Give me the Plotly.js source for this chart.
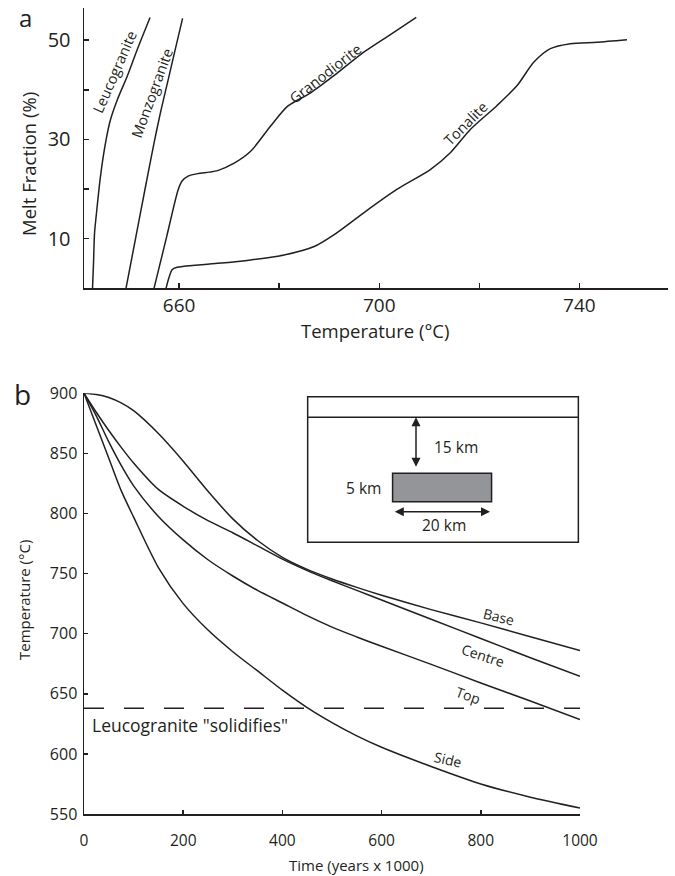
<!DOCTYPE html>
<html>
<head>
<meta charset="utf-8">
<script src="https://cdn.plot.ly/plotly-3.0.1.min.js"></script>
<style>html,body{margin:0;padding:0;background:#fff;}#chart{width:675px;height:876px;}</style>
</head>
<body>
<div id="chart"></div>
<script>
// ---- Panel a: melt fraction vs temperature ----
const leucoT = [642.7, 642.9, 643.1, 643.5, 644.3, 645.3, 646.3, 647.7, 649.7, 651.7, 654.2];
const leucoM = [0, 5, 11, 15.2, 22.6, 29.3, 34, 38.1, 42.9, 48.3, 54.6];
const monzoT = [649.4, 651.3, 653.2, 655.0, 656.3, 657.7, 659.2, 660.7];
const monzoM = [0, 10, 20, 29.3, 35.5, 41.5, 48, 54.4];
const granoT = [655.0, 657.5, 659.8, 660.6, 661.8, 663.7, 666.0, 667.7, 671.0, 674.3, 678.3, 681.7, 686.3, 691.0, 696.9, 702.0, 707.4];
const granoM = [0, 10.3, 19.8, 21.6, 22.6, 23.1, 23.4, 23.7, 25.2, 27.6, 32.7, 36.7, 39.4, 42.9, 47.6, 51.0, 54.6];
const tonT = [657.4, 658.0, 658.6, 659.6, 661, 667.7, 674.3, 681, 687, 691, 696.9, 703.5, 710.2, 714.2, 718.2, 723.5, 727.5, 730.9, 734.2, 738.2, 743.5, 749.5];
const tonM = [0, 2.2, 3.7, 4.2, 4.4, 5.0, 5.7, 6.7, 8.4, 10.8, 15.2, 19.9, 23.9, 27.3, 32.0, 36.8, 40.8, 45.6, 48.3, 49.3, 49.6, 50.1];
const rockNames = ['Leucogranite', 'Monzogranite', 'Granodiorite', 'Tonalite'];
const aTickVals = [660, 680, 700, 720, 740];
const aTickText = ['660', '', '700', '', '740'];
const aYTickVals = [10, 20, 30, 40, 50];
const aYTickText = ['10', '', '30', '', '50'];

// ---- Panel b: cooling curves ----
const timeKyr = [0, 25, 50, 75, 100, 150, 200, 250, 300, 350, 400, 450, 500, 550, 600, 700, 800, 900, 1000];
const baseT   = [900, 899, 896.5, 892, 885.5, 866.5, 843.5, 818.5, 795.5, 777.5, 763.5, 753.5, 745.5, 738.5, 732, 720, 709, 697.5, 686];
const centreT = [900, 884, 869, 855, 842, 820, 806, 794, 784, 773, 762, 752.5, 744, 736, 728, 712, 696, 680, 664.5];
const topT    = [900, 881, 859.5, 840, 823, 797.5, 778, 761.5, 748, 736, 725.5, 715, 705.5, 697.3, 689.5, 674.5, 659, 644, 628.5];
const sideT   = [900, 873, 846, 819, 797, 755, 725, 703, 685, 669, 653, 638.5, 626, 615, 605.5, 589.5, 575, 564, 555];
const positionNames = ['Base', 'Centre', 'Top', 'Side'];
const solidusT = 638;
const solidusRange = [0, 1000];
const bTickValsX = [0, 200, 400, 600, 800, 1000];
const bTickValsY = [550, 600, 650, 700, 750, 800, 850, 900];

const INK = '#231f20';
const FONT = 'Open Sans, sans-serif';
const lineStyle = {color: INK, width: 1.5, shape: 'spline', smoothing: 0.7};

const traces = [];
[[leucoT, leucoM], [monzoT, monzoM], [granoT, granoM], [tonT, tonM]].forEach((p, i) => {
  traces.push({x: p[0], y: p[1], name: rockNames[i], type: 'scatter', mode: 'lines', line: lineStyle, xaxis: 'x', yaxis: 'y', hoverinfo: 'skip'});
});
[baseT, centreT, topT, sideT].forEach((v, i) => {
  traces.push({x: timeKyr, y: v, name: positionNames[i], type: 'scatter', mode: 'lines', line: lineStyle, xaxis: 'x2', yaxis: 'y2', hoverinfo: 'skip'});
});
traces.push({x: solidusRange, y: [solidusT, solidusT], type: 'scatter', mode: 'lines', name: 'solidus',
  line: {color: INK, width: 1.5, dash: '20px,20px'}, xaxis: 'x2', yaxis: 'y2', hoverinfo: 'skip'});

const axBase = {showline: true, linecolor: INK, linewidth: 1.5, showgrid: false, zeroline: false,
  tickcolor: INK, tickwidth: 1.5, ticks: 'inside', tickmode: 'array', fixedrange: true};

const ann = [];
function txt(text, x, y, size, opts) {
  ann.push(Object.assign({text: text, x: x, y: y, xref: 'paper', yref: 'paper', showarrow: false,
    xanchor: 'center', yanchor: 'middle',
    font: {family: FONT, size: size, color: INK}}, opts || {}));
}
// panel letters
txt('a', -0.101, 0.988, 24);
txt('b', -0.106, 0.521, 28);
// axis titles
txt('Melt Fraction (%)', -0.0942, 0.8065, 18.5, {textangle: -90});
txt('Temperature (°C)', 0.4983, 0.600, 18.5);
txt('Temperature (°C)', -0.1027, 0.2655, 15, {textangle: -90});
txt('Time (years x 1000)', 0.4658, -0.0633, 15);
// curve labels panel a
txt(rockNames[0], 0.0531, 0.9206, 14.5, {textangle: -66.5});
txt(rockNames[1], 0.1159, 0.8942, 14.5, {textangle: -70});
txt(rockNames[2], 0.4127, 0.919, 14.5, {textangle: -38});
txt(rockNames[3], 0.6536, 0.8561, 14.5, {textangle: -45});
// curve labels panel b
txt(positionNames[0], 0.7094, 0.2448, 14, {textangle: 14});
txt(positionNames[1], 0.6837, 0.1964, 14, {textangle: 18});
txt(positionNames[2], 0.6592, 0.1476, 14, {textangle: 20});
txt(positionNames[3], 0.6238, 0.067, 14, {textangle: 13});
txt('Leucogranite "solidifies"', 0.0103, 0.1104, 17.5, {xanchor: 'left'});
// inset
txt('15 km', 0.5954, 0.4557, 15.5, {xanchor: 'left'});
txt('5 km', 0.512, 0.4041, 15.5, {xanchor: 'right'});
txt('20 km', 0.6164, 0.3586, 15.5);
ann.push({x: 0.5685, y: 0.4922, xref: 'paper', yref: 'paper', ax: 0, ay: 51, text: '', showarrow: true,
  arrowhead: 2, arrowside: 'end+start', arrowsize: 1.2, arrowwidth: 1.5, arrowcolor: INK});
ann.push({x: 0.6952, y: 0.3751, xref: 'paper', yref: 'paper', ax: -96.7, ay: 0, text: '', showarrow: true,
  arrowhead: 2, arrowside: 'end+start', arrowsize: 1.2, arrowwidth: 1.5, arrowcolor: INK});

const shapes = [
  {type: 'rect', xref: 'paper', yref: 'paper', x0: 0.383, x1: 0.8465, y0: 0.3371, y1: 0.5177, line: {color: INK, width: 1.5}},
  {type: 'line', xref: 'paper', yref: 'paper', x0: 0.383, x1: 0.8465, y0: 0.4922, y1: 0.4922, line: {color: INK, width: 1.5}},
  {type: 'rect', xref: 'paper', yref: 'paper', x0: 0.5284, x1: 0.6979, y0: 0.3875, y1: 0.4227, fillcolor: '#939598', line: {color: INK, width: 1.5}}
];

const layout = {
  width: 675, height: 876,
  margin: {l: 84, r: 7, t: 8, b: 62},
  paper_bgcolor: '#fff', plot_bgcolor: 'rgba(0,0,0,0)',
  showlegend: false,
  font: {family: FONT, color: INK},
  xaxis: Object.assign({}, axBase, {domain: [0, 1], range: [641, 757.7], anchor: 'y',
    tickvals: aTickVals, ticktext: aTickText, ticklen: 5, tickfont: {size: 19, family: FONT, color: INK}}),
  yaxis: Object.assign({}, axBase, {domain: [0.6524, 1], range: [0, 56.5], anchor: 'x',
    tickvals: aYTickVals, ticktext: aYTickText, ticklen: 5, ticklabelstandoff: 8, tickfont: {size: 20, family: FONT, color: INK}}),
  xaxis2: Object.assign({}, axBase, {domain: [0, 0.8493], range: [0, 1000], anchor: 'y2',
    tickvals: bTickValsX, ticklen: 4, ticklabelstandoff: 12, tickfont: {size: 15.5, family: FONT, color: INK}}),
  yaxis2: Object.assign({}, axBase, {domain: [0, 0.522], range: [550, 900], anchor: 'x2',
    tickvals: bTickValsY, ticklen: 4, ticklabelstandoff: 2, tickfont: {size: 16, family: FONT, color: INK}}),
  annotations: ann,
  shapes: shapes
};

Plotly.newPlot('chart', traces, layout, {displayModeBar: false, staticPlot: true});
</script>
</body>
</html>
